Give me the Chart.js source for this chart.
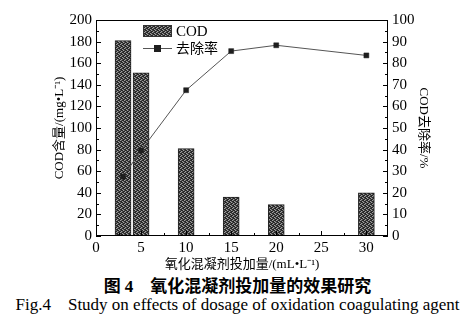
<!DOCTYPE html>
<html>
<head>
<meta charset="utf-8">
<script src="https://cdn.jsdelivr.net/npm/chart.js@4"></script>
<style>
  body { margin: 0; background: #fff; width: 475px; height: 327px; overflow: hidden; }
  #wrap { position: relative; width: 475px; height: 275px; }
  .cap { text-align: center; font-family: "Liberation Serif", "Noto Sans CJK SC", serif; color: #000; white-space: pre; }
  #cap1 { font-size: 17px; font-weight: bold; line-height: 18px; margin-top: 3px; }
  #cap2 { font-size: 17px; line-height: 18px; }
</style>
</head>
<body>
<div id="wrap"><canvas id="chart" width="475" height="275"></canvas></div>
<div class="cap" id="cap1">图 4    氧化混凝剂投加量的效果研究</div>
<div class="cap" id="cap2">Fig.4    Study on effects of dosage of oxidation coagulating agent</div>
<script>
/********** DATA **********/
const dosage = [3, 5, 10, 15, 20, 30];            // mL/L
const codValues = [181, 151, 81, 36, 29, 40];      // mg/L
const removalRate = [27.5, 39.6, 67.5, 85.6, 88.3, 83.6]; // %
const xTicks = [0, 5, 10, 15, 20, 25, 30];
const leftTicks = [0, 20, 40, 60, 80, 100, 120, 140, 160, 180, 200];
const rightTicks = [0, 10, 20, 30, 40, 50, 60, 70, 80, 90, 100];

const SERIF = '"Liberation Serif", "Noto Sans CJK SC", serif';

/********** speckled fill for the bars **********/
function makePattern() {
  const c = document.createElement('canvas');
  c.width = 4; c.height = 4;
  const g = c.getContext('2d');
  g.fillStyle = '#262626';
  g.fillRect(0, 0, 4, 4);
  g.fillStyle = '#5a5a5a';
  [[1, 0], [3, 1], [0, 2], [2, 3]].forEach(p => g.fillRect(p[0], p[1], 1, 1));
  g.fillStyle = '#a0a0a0';
  [[0, 0], [2, 1], [3, 2], [1, 3]].forEach(p => g.fillRect(p[0], p[1], 1, 1));
  return g.createPattern(c, 'repeat');
}
const hatch = makePattern();

/********** inward ticks, frame and legend **********/
const framePlugin = {
  id: 'frame',
  afterDraw(chart) {
    const ctx = chart.ctx;
    const a = chart.chartArea;
    const sx = chart.scales.x, sl = chart.scales.y, sr = chart.scales.y1;
    ctx.save();
    ctx.strokeStyle = '#000';
    ctx.lineWidth = 1;
    ctx.strokeRect(a.left + 0.5, a.top + 0.5, a.right - a.left - 1, a.bottom - a.top - 1);

    ctx.beginPath();
    // bottom axis
    for (let v = 0; v <= 30; v += 2.5) {
      const px = Math.round(sx.getPixelForValue(v)) + 0.5;
      const len = v % 5 === 0 ? 5 : 3;
      ctx.moveTo(px, a.bottom);
      ctx.lineTo(px, a.bottom - len);
    }
    // left axis
    for (let v = 0; v <= 200; v += 10) {
      const py = Math.round(sl.getPixelForValue(v)) + 0.5;
      const len = v % 20 === 0 ? 5 : 3;
      ctx.moveTo(a.left, py);
      ctx.lineTo(a.left + len, py);
    }
    // right axis
    for (let v = 0; v <= 100; v += 5) {
      const py = Math.round(sr.getPixelForValue(v)) + 0.5;
      const len = v % 10 === 0 ? 5 : 3;
      ctx.moveTo(a.right, py);
      ctx.lineTo(a.right - len, py);
    }
    ctx.stroke();

    // legend
    const lx = 143, ly = 25;
    ctx.fillStyle = hatch;
    ctx.fillRect(lx, ly, 29, 12);
    ctx.strokeStyle = '#333';
    ctx.strokeRect(lx + 0.5, ly + 0.5, 28, 11);
    ctx.fillStyle = '#000';
    ctx.font = '15px ' + SERIF;
    ctx.textBaseline = 'middle';
    ctx.fillText('COD', lx + 33, ly + 7);

    ctx.strokeStyle = '#555';
    ctx.beginPath();
    ctx.moveTo(lx, 48.5);
    ctx.lineTo(lx + 29, 48.5);
    ctx.stroke();
    ctx.fillStyle = '#1e1e1e';
    ctx.fillRect(lx + 11, 45, 7, 7);
    ctx.fillStyle = '#000';
    ctx.font = '14px ' + SERIF;
    ctx.fillText('去除率', lx + 33, 49);
    ctx.restore();
  }
};

/********** CHART **********/
const tickFont = { family: SERIF, size: 15 };
const titleFont = { family: SERIF, size: 13 };

new Chart(document.getElementById('chart'), {
  type: 'bar',
  data: {
    datasets: [
      {
        type: 'line',
        label: '去除率',
        data: dosage.map((d, i) => ({ x: d, y: removalRate[i] })),
        yAxisID: 'y1',
        borderColor: '#555',
        borderWidth: 1,
        pointStyle: 'rect',
        pointRadius: 3.5,
        pointBackgroundColor: '#1e1e1e',
        pointBorderColor: '#1e1e1e',
        pointBorderWidth: 0.5,
        tension: 0,
        order: 0
      },
      {
        type: 'bar',
        label: 'COD',
        data: dosage.map((d, i) => ({ x: d, y: codValues[i] })),
        yAxisID: 'y',
        backgroundColor: hatch,
        borderColor: '#222',
        borderWidth: 1,
        barThickness: 16,
        order: 1
      }
    ]
  },
  options: {
    responsive: false,
    animation: false,
    layout: { padding: { top: 20, left: 0, right: 0, bottom: 0 } },
    plugins: { legend: { display: false }, tooltip: { enabled: false } },
    scales: {
      x: {
        type: 'linear',
        offset: false,
        min: 0,
        max: 32.4,
        afterBuildTicks: s => { s.ticks = xTicks.map(v => ({ value: v })); },
        afterFit: s => { s.height = 39; },
        grid: { display: false, drawTicks: false },
        border: { display: false },
        ticks: { font: tickFont, color: '#000', padding: 3, maxRotation: 0 },
        title: {
          display: true,
          text: '氧化混凝剂投加量/(mL•L⁻¹)',
          font: titleFont,
          color: '#000',
          padding: { top: 0, bottom: 3 }
        }
      },
      y: {
        position: 'left',
        min: 0,
        max: 200,
        afterBuildTicks: s => { s.ticks = leftTicks.map(v => ({ value: v })); },
        afterFit: s => { s.width = 96; },
        grid: { display: false, drawTicks: false },
        border: { display: false },
        ticks: { font: tickFont, color: '#000', padding: 4 },
        title: {
          display: true,
          text: 'COD含量/(mg•L⁻¹)',
          font: titleFont,
          color: '#000',
          padding: { top: 52, bottom: 0 }
        }
      },
      y1: {
        position: 'right',
        min: 0,
        max: 100,
        afterBuildTicks: s => { s.ticks = rightTicks.map(v => ({ value: v })); },
        afterFit: s => { s.width = 87; },
        grid: { display: false, drawTicks: false },
        border: { display: false },
        ticks: { font: tickFont, color: '#000', padding: 4 },
        title: {
          display: true,
          text: 'COD去除率/%',
          font: titleFont,
          color: '#000',
          padding: { top: 44, bottom: 0 }
        }
      }
    }
  },
  plugins: [framePlugin]
});
</script>
</body>
</html>
